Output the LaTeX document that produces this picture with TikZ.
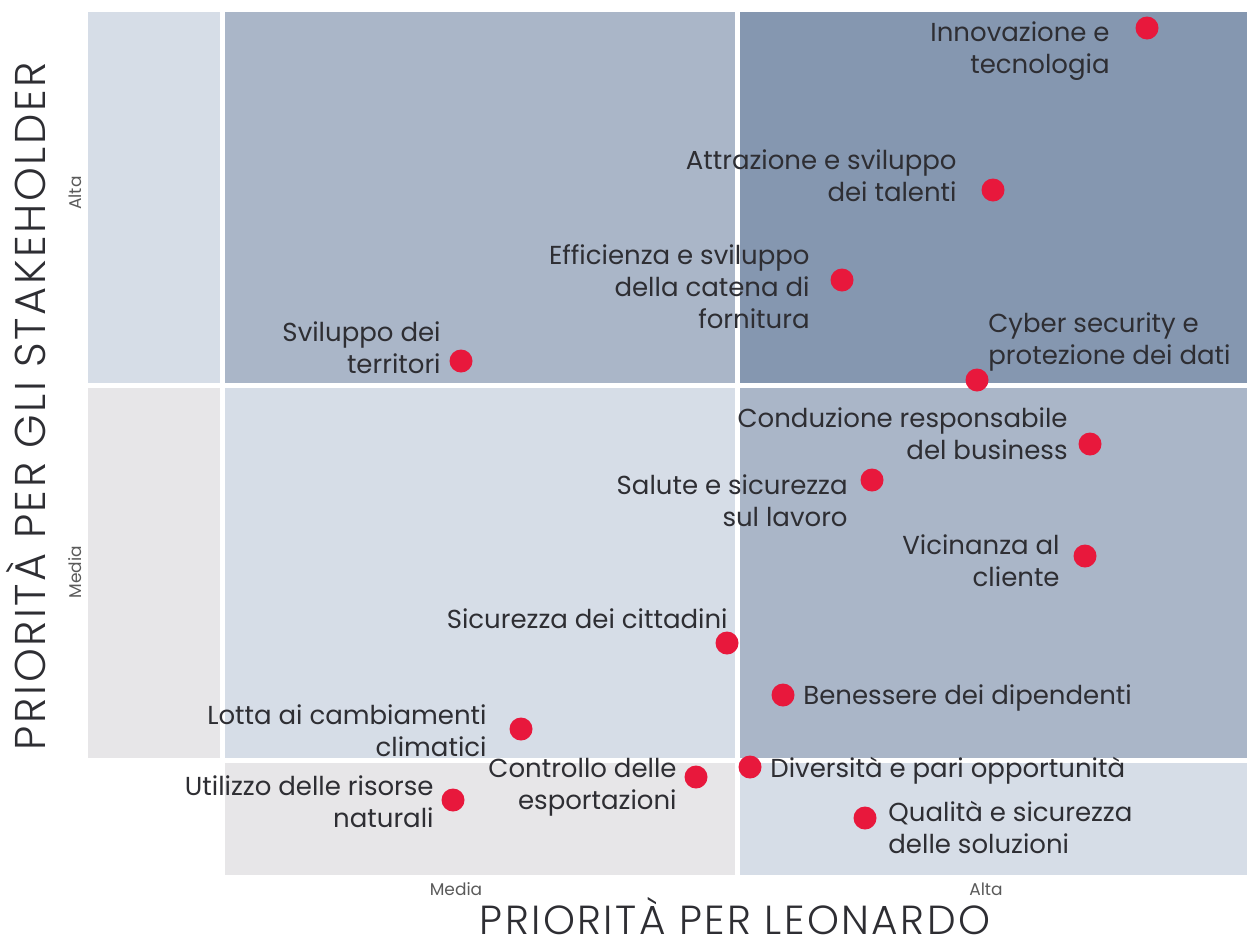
\documentclass[tikz,border=0pt]{standalone}
\usepackage{fontspec}
\setmainfont{Poppins}
\newfontfamily\titlefont[LetterSpace=6]{Poppins Light}
\usetikzlibrary{positioning}
\definecolor{cellDark}{HTML}{8597B0}
\definecolor{cellMid}{HTML}{AAB6C8}
\definecolor{cellLight}{HTML}{D6DDE7}
\definecolor{cellGray}{HTML}{E7E6E8}
\definecolor{dotRed}{HTML}{E8183C}
\definecolor{txtDark}{HTML}{2E2E33}
\definecolor{txtAxis}{HTML}{5A5A5A}
\tikzset{topic/.style={circle,
                       fill=dotRed,
                       minimum size=11.5pt,
                       inner sep=0pt
                       },
        topiclabel/.style={text=txtDark,
                       font=\fontsize{13}{16}\selectfont,
                       inner sep=0pt
        },
        divider/.style={white, line width=2.5pt},
        axislabel/.style={text=txtAxis, font=\fontsize{8.5}{10}\selectfont, inner sep=0pt},
        axistitle/.style={text=txtDark, font=\titlefont\fontsize{20.3}{24}\selectfont, inner sep=0pt},
}

\begin{document}
\begin{tikzpicture}
    [x=0.5pt,y=-0.5pt]
    \useasboundingbox (0,0) rectangle (1247,943);

    % MATRIX CELLS
    \foreach \xa/\xb/\ya/\yb/\c in {88/222/12/385/cellLight, 222/737/12/385/cellMid, 737/1247/12/385/cellDark,
                                    88/222/385/760/cellGray, 222/737/385/760/cellLight, 737/1247/385/760/cellMid,
                                    88/222/760/875/white, 222/737/760/875/cellGray, 737/1247/760/875/cellLight}
        \fill[\c] (\xa,\ya) rectangle (\xb,\yb);

    \draw[divider] (222,12) -- (222,875);
    \draw[divider] (737,12) -- (737,875);
    \draw[divider] (88,385) -- (1247,385);
    \draw[divider] (88,760) -- (1247,760);

    % AXES
    \node[axistitle, anchor=base] (xTitle) at (735,934) {PRIORITÀ PER LEONARDO};
    \node[axistitle, anchor=base, rotate=90, font=\titlefont\fontsize{21.5}{24}\selectfont] (yTitle) at (46,406) {PRIORITÀ PER GLI STAKEHOLDER};

    \node[axislabel] (xMedia) at (456,889) {Media};
    \node[axislabel] (xAlta) at (986,889) {Alta};
    \node[axislabel, rotate=90] (yAlta) at (75,193) {Alta};
    \node[axislabel, rotate=90] (yMedia) at (75,572) {Media};

    % TOPICS
    \node[topic] (innov) at (1147,28) {};
    \node[topic] (attr) at (993,190) {};
    \node[topic] (effic) at (842,280) {};
    \node[topic] (svil) at (461,361) {};
    \node[topic] (cyber) at (977,380) {};
    \node[topic] (cond) at (1090,444) {};
    \node[topic] (salute) at (872,480) {};
    \node[topic] (vicin) at (1085,556) {};
    \node[topic] (sicur) at (727,643) {};
    \node[topic] (benes) at (783,695) {};
    \node[topic] (lotta) at (521,729) {};
    \node[topic] (contr) at (696,777) {};
    \node[topic] (utiliz) at (453,800) {};
    \node[topic] (divers) at (750,767) {};
    \node[topic] (qualita) at (865,818) {};

    % TOPIC LABELS
    \node[topiclabel, anchor=east, align=right] (innovText) at ([xshift=-18.5pt,yshift=-11.5pt]innov) {Innovazione e\\tecnologia};
    \node[topiclabel, anchor=east, align=right] (attrText) at ([xshift=-18pt,yshift=7pt]attr) {Attrazione e sviluppo\\dei talenti};
    \node[topiclabel, anchor=east, align=right] (efficText) at ([xshift=-16pt,yshift=-3.5pt]effic) {Efficienza e sviluppo\\della catena di\\fornitura};
    \node[topiclabel, anchor=east, align=right] (svilText) at ([xshift=-10pt,yshift=6.5pt]svil) {Sviluppo dei\\territori};
    \node[topiclabel, anchor=west, align=left] (cyberText) at ([xshift=5.5pt,yshift=19pt]cyber) {Cyber security e\\protezione dei dati};
    \node[topiclabel, anchor=east, align=right] (condText) at ([xshift=-11pt,yshift=5pt]cond) {Conduzione responsabile\\del business};
    \node[topiclabel, anchor=east, align=right] (saluteText) at ([xshift=-12pt,yshift=-10.5pt]salute) {Salute e sicurezza\\sul lavoro};
    \node[topiclabel, anchor=east, align=right] (vicinText) at ([xshift=-12.5pt,yshift=-2.5pt]vicin) {Vicinanza al\\cliente};
    \node[topiclabel, anchor=east] (sicurText) at ([xshift=0.5pt,yshift=12pt]sicur) {Sicurezza dei cittadini};
    \node[topiclabel, anchor=west] (benesText) at ([xshift=10pt,yshift=-1.5pt]benes) {Benessere dei dipendenti};
    \node[topiclabel, anchor=east, align=right] (lottaText) at ([xshift=-17pt,yshift=-1pt]lotta) {Lotta ai cambiamenti\\climatici};
    \node[topiclabel, anchor=east, align=right] (contrText) at ([xshift=-9.5pt,yshift=-5pt]contr) {Controllo delle\\esportazioni};
    \node[topiclabel, anchor=east, align=right] (utilizText) at ([xshift=-9.5pt,yshift=-1pt]utiliz) {Utilizzo delle risorse\\naturali};
    \node[topiclabel, anchor=west] (diversText) at ([xshift=10pt,yshift=-2pt]divers) {Diversità e pari opportunità};
    \node[topiclabel, anchor=west, align=left] (qualitaText) at ([xshift=11.5pt,yshift=-4.5pt]qualita) {Qualità e sicurezza\\delle soluzioni};

\end{tikzpicture}
\end{document}
